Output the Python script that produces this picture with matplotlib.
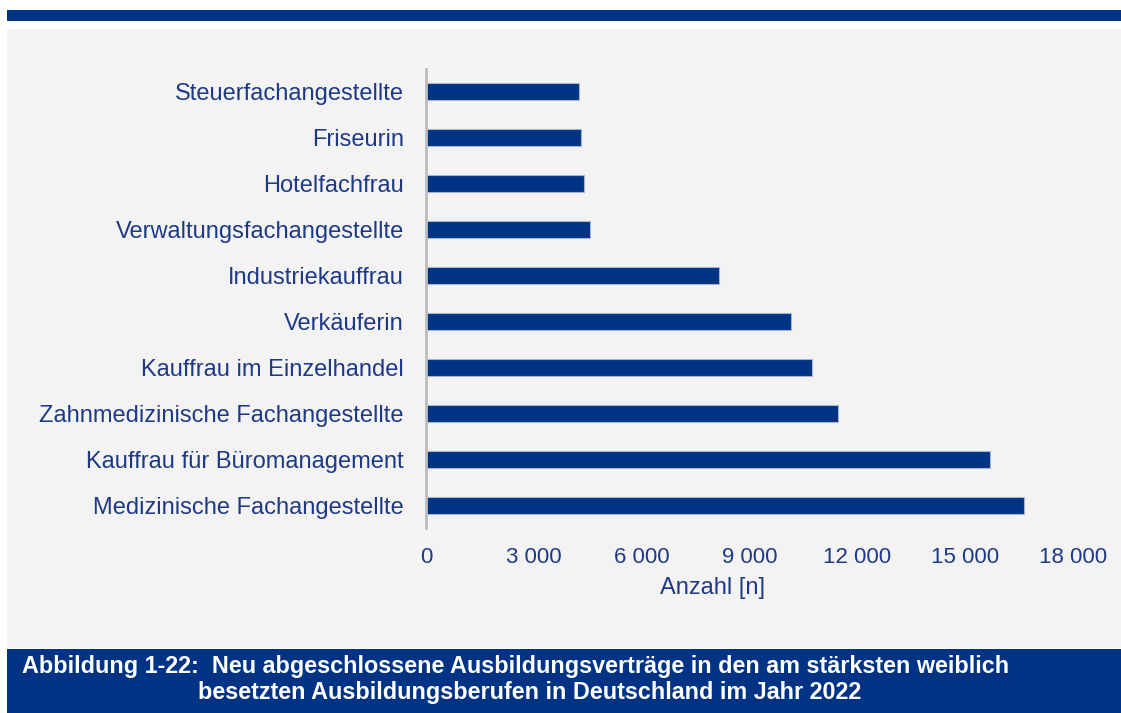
import matplotlib.pyplot as plt
from matplotlib.patches import Rectangle
from matplotlib.ticker import FuncFormatter

berufe = [
    'Medizinische Fachangestellte',
    'Kauffrau für Büromanagement',
    'Zahnmedizinische Fachangestellte',
    'Kauffrau im Einzelhandel',
    'Verkäuferin',
    'Industriekauffrau',
    'Verwaltungsfachangestellte',
    'Hotelfachfrau',
    'Friseurin',
    'Steuerfachangestellte',
]
anzahl = [16650, 15700, 11450, 10750, 10150, 8150, 4550, 4400, 4300, 4250]
x_ticks = [0, 3000, 6000, 9000, 12000, 15000, 18000]

NAVY = '#003383'
TEXT = '#1F3A85'
PANEL = '#F3F3F3'


def main():
    plt.rcParams['font.family'] = ['Liberation Sans', 'DejaVu Sans']
    W, H = 1121, 713
    fig = plt.figure(figsize=(W / 100, H / 100), dpi=100)
    fig.patch.set_facecolor('white')

    # frame pieces (pixel coords -> figure fractions)
    def box(x0, y0, x1, y1, color):
        fig.patches.append(Rectangle((x0 / W, 1 - y1 / H), (x1 - x0) / W, (y1 - y0) / H,
                                     transform=fig.transFigure, facecolor=color,
                                     edgecolor='none', zorder=-5))

    box(7, 10, W, 21, NAVY)
    box(7, 29, W, 648, PANEL)
    box(7, 649, W, H, NAVY)

    ax = fig.add_axes([426 / W, 1 - 528 / H, (1073 - 426) / W, (528 - 69) / H])
    ax.set_zorder(2)
    ax.set_facecolor('none')
    y = range(len(berufe))
    ax.barh(y, anzahl, height=0.37, color=NAVY, edgecolor='#A9B3CC', linewidth=0.8)
    ax.set_ylim(-0.5, len(berufe) - 0.5)
    ax.set_xlim(0, 18000)
    ax.set_yticks(list(y))
    ax.set_yticklabels(berufe, fontsize=17, color=TEXT)
    ax.set_xticks(x_ticks)
    ax.xaxis.set_major_formatter(FuncFormatter(lambda v, p: f'{int(v):,}'.replace(',', ' ')))
    ax.tick_params(axis='x', labelsize=16, colors=TEXT, length=0, pad=14)
    ax.tick_params(axis='y', length=0, pad=16)
    ax.set_xlabel('Anzahl [n]', fontsize=17, color=TEXT, va='center')
    ax.xaxis.set_label_coords((713 - 426) / 647, (528 - 588) / 459)
    for s in ['top', 'right', 'bottom']:
        ax.spines[s].set_visible(False)
    ax.spines['left'].set_color('#BDBDBD')
    ax.spines['left'].set_linewidth(2)

    fig.text(516 / W, 1 - 666 / H,
             'Abbildung 1-22:  Neu abgeschlossene Ausbildungsverträge in den am stärksten weiblich',
             ha='center', va='center', color='white', fontsize=16.8, fontweight='bold')
    fig.text(530 / W, 1 - 692 / H,
             'besetzten Ausbildungsberufen in Deutschland im Jahr 2022',
             ha='center', va='center', color='white', fontsize=16.8, fontweight='bold')

    fig.savefig('out.png', dpi=100)


if __name__ == '__main__':
    main()
